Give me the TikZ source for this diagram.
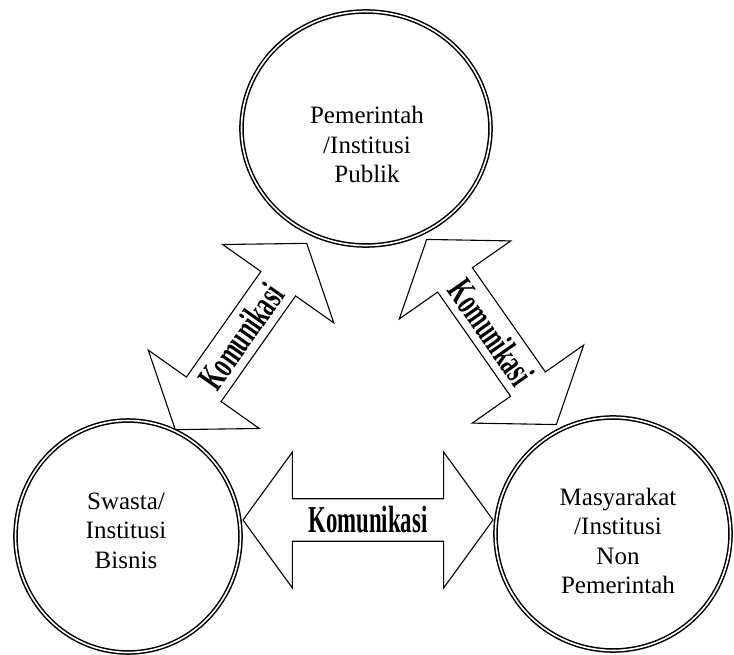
\documentclass[tikz,border=0pt]{standalone}
\usepackage{fontspec}
\setmainfont{Liberation Serif}
\newfontfamily\komfont{Liberation Serif}[FakeStretch=0.6]
\usetikzlibrary{shapes.geometric,shapes.arrows}

\tikzset{
  party/.style={ellipse, draw, line width=1.5pt, double, double distance=1.6pt, inner sep=0pt},
  partytext/.style={align=center, font=\fontsize{25}{29.5}\selectfont, inner sep=0pt},
  komarrow/.style={double arrow, draw, line width=1.1pt, fill=white, minimum width=136pt,
    double arrow head extend=33pt, double arrow tip angle=108, inner sep=1pt,
    font=\komfont\bfseries\fontsize{38}{38}\selectfont}
}

\begin{document}
\begin{tikzpicture}[x=1pt, y=-1pt]
\useasboundingbox (0,0) rectangle (734,655);

% Circles
\node[party, minimum width=249pt, minimum height=234pt] (gov) at (366,128.5) {};
\node[party, minimum width=225pt, minimum height=232pt] (swasta) at (128,536.5) {};
\node[party, minimum width=235pt, minimum height=233pt] (masy) at (613,534) {};

% Labels
\node[partytext] (govtext) at (367,144.5) {Pemerintah\\/Institusi\\Publik};
\node[partytext] (swastatext) at (126,530.5) {Swasta/\\Institusi\\Bisnis};
\node[partytext] (masytext) at (618,541) {Masyarakat\\/Institusi\\Non\\Pemerintah};

% Arrows
\node[komarrow, minimum height=250pt] (komB) at (368,520) {Komunikasi};
\node[komarrow, minimum height=228pt, rotate=54.8] (komL) at (241,336.5) {Komunikasi};
\node[komarrow, minimum height=226pt, rotate=-55] (komR) at (491.5,332) {Komunikasi};
\end{tikzpicture}
\end{document}
